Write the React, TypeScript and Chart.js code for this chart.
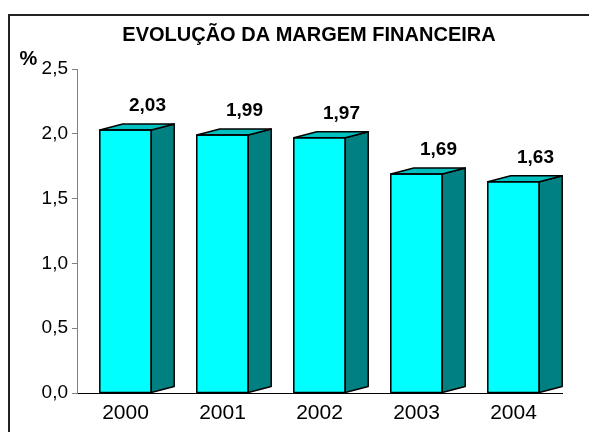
import React, { useEffect, useRef } from "react";
import { Chart, registerables } from "chart.js";

Chart.register(...registerables);

const categories = ["2000", "2001", "2002", "2003", "2004"];
const margem = [2.03, 1.99, 1.97, 1.69, 1.63];
const titleText = "EVOLUÇÃO DA MARGEM FINANCEIRA";
const unitLabel = "%";

const FONT = "'Liberation Sans', Arial, sans-serif";
const fmt = (v: number, d: number) => v.toFixed(d).replace(".", ",");

const DEPTH_X = 23;
const DEPTH_Y = 6;

const deco = {
  id: "deco",
  beforeDraw(chart: any) {
    const ctx = chart.ctx;
    ctx.save();
    ctx.fillStyle = "#ffffff";
    ctx.fillRect(0, 0, chart.width, chart.height);
    // frame
    ctx.strokeStyle = "#222222";
    ctx.lineWidth = 2;
    ctx.beginPath();
    ctx.moveTo(9, chart.height);
    ctx.lineTo(9, 15);
    ctx.lineTo(chart.width, 15);
    ctx.stroke();
    // title
    ctx.fillStyle = "#000";
    ctx.font = `bold 20px ${FONT}`;
    ctx.textAlign = "center";
    ctx.textBaseline = "middle";
    ctx.fillText(titleText, 309, 35);
    // unit
    ctx.font = `bold 20px ${FONT}`;
    ctx.fillText(unitLabel, 28.5, 59);
    ctx.restore();
  },
  afterDatasetsDraw(chart: any) {
    const ctx = chart.ctx;
    const meta = chart.getDatasetMeta(0);
    ctx.save();
    ctx.lineJoin = "round";
    ctx.strokeStyle = "#000";
    ctx.lineWidth = 1.5;
    meta.data.forEach((bar: any, i: number) => {
      const { x, y, base, width } = bar.getProps(["x", "y", "base", "width"], true);
      const l = x - width / 2;
      const r = x + width / 2;
      // side face
      ctx.beginPath();
      ctx.moveTo(r, base);
      ctx.lineTo(r + DEPTH_X, base - DEPTH_Y);
      ctx.lineTo(r + DEPTH_X, y - DEPTH_Y);
      ctx.lineTo(r, y);
      ctx.closePath();
      ctx.fillStyle = "#008080";
      ctx.fill();
      ctx.stroke();
      // top face
      ctx.beginPath();
      ctx.moveTo(l, y);
      ctx.lineTo(l + DEPTH_X, y - DEPTH_Y);
      ctx.lineTo(r + DEPTH_X, y - DEPTH_Y);
      ctx.lineTo(r, y);
      ctx.closePath();
      ctx.fillStyle = "#00C0C0";
      ctx.fill();
      ctx.stroke();
      // front outline
      ctx.strokeRect(l, y, width, base - y);
      // value label
      ctx.fillStyle = "#000";
      ctx.font = `bold 19px ${FONT}`;
      ctx.textAlign = "center";
      ctx.textBaseline = "middle";
      ctx.fillText(fmt(margem[i], 2), x + 22, y - 24);
    });
    ctx.restore();
  },
};

export default function App() {
  const ref = useRef<HTMLCanvasElement>(null);
  useEffect(() => {
    if (!ref.current) return;
    const chart = new Chart(ref.current, {
      type: "bar",
      data: {
        labels: categories,
        datasets: [
          {
            data: margem,
            backgroundColor: "#00FFFF",
            borderColor: "#000",
            borderWidth: 0,
            barPercentage: 0.53,
            categoryPercentage: 1,
          },
        ],
      },
      options: {
        animation: false,
        responsive: false,
        maintainAspectRatio: false,
        events: [],
        layout: { padding: { left: 0, top: 69, right: 27, bottom: 0 } },
        plugins: {
          legend: { display: false },
          title: { display: false },
          tooltip: { enabled: false },
        },
        scales: {
          x: {
            grid: { display: false },
            border: { display: true, color: "#000", width: 1 },
            ticks: {
              color: "#000",
              font: { family: FONT, size: 21 },
              padding: 0,
              maxRotation: 0,
            },
            afterFit(scale: any) {
              scale.height = 39;
            },
          },
          y: {
            min: 0,
            max: 2.5,
            ticks: {
              stepSize: 0.5,
              color: "#000",
              font: { family: FONT, size: 19 },
              padding: 4,
              callback: (v: any) => fmt(Number(v), 1),
            },
            grid: {
              drawOnChartArea: false,
              drawTicks: true,
              tickLength: 5,
              color: "#808080",
            },
            border: { display: true, color: "#808080", width: 1 },
            afterFit(scale: any) {
              scale.width = 77;
            },
          },
        },
      },
      plugins: [deco],
    });
    return () => chart.destroy();
  }, []);
  return (
    <div style={{ position: "fixed", left: 0, top: 0, width: 589, height: 432 }}>
      <canvas ref={ref} width={589} height={432} style={{ width: 589, height: 432, display: "block" }} />
    </div>
  );
}
